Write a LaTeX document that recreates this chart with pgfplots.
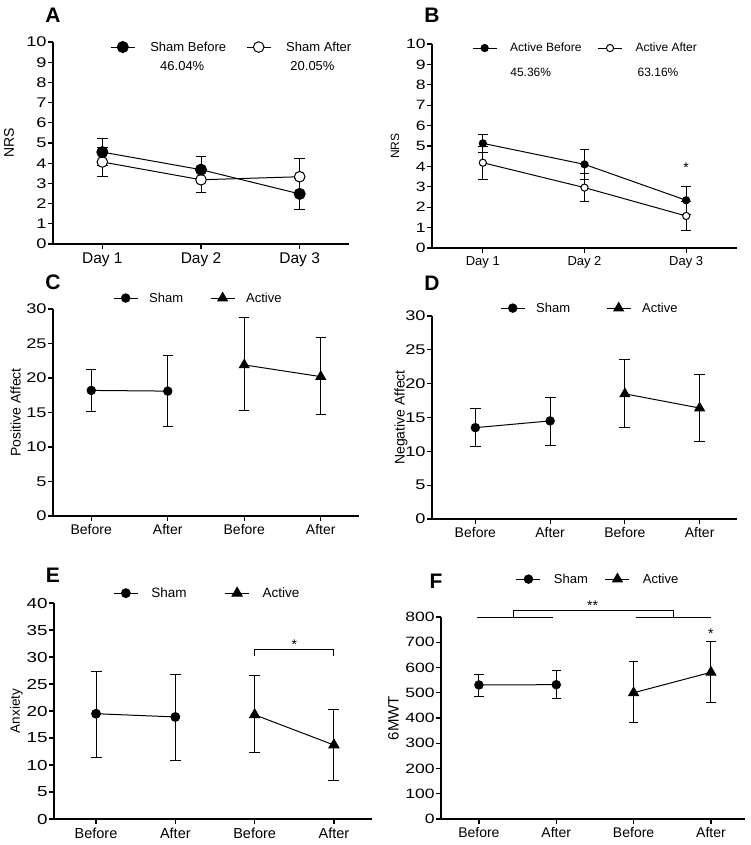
\documentclass[border=0pt]{standalone}
\usepackage{fontspec}
\setmainfont{Liberation Sans}
\newfontfamily\widefont[FakeStretch=1.3]{Liberation Sans}
\usepackage{pgfplots}
\pgfplotsset{compat=1.18}

\newcommand{\fs}[1]{\fontsize{#1}{#1}\selectfont}
\newcommand{\ws}[1]{\widefont\fontsize{#1}{#1}\selectfont}

\pgfplotsset{
  gp/.style={
    scale only axis, anchor=south west, clip=false,
    axis x line=bottom, axis y line=left,
    axis line style={-, line width=1.2pt},
    tick style={black, line width=1.2pt},
    major tick length=5pt, tick align=outside,
    /pgf/number format/assume math mode=true,
    xtick={1,2,3,4},
    legend columns=2,
    legend style={draw=none, fill=none, inner sep=0pt, anchor=west,
      nodes={inner sep=0pt}},
    legend image code/.code={\draw[mark repeat=2,mark phase=2,##1]
      plot coordinates {(0pt,0pt) (12pt,0pt) (24pt,0pt)};},
  },
  fc/.style={black, line width=1pt, mark=*, mark size=#1,
    mark options={fill=black, solid}},
  oc/.style={black, line width=1pt, mark=*, mark size=#1,
    mark options={fill=white, solid}},
  tri/.style={black, line width=1pt, mark=triangle*, mark size=#1,
    mark options={fill=black, solid}},
  eb/.style={error bars/y dir=both, error bars/y explicit,
    error bars/error bar style={line width=1pt, black},
    error bars/error mark options={black, line width=1pt, rotate=90,
      mark size=#1}},
  ylab/.style={ylabel style={at={([xshift=#1]axis description cs:0,0.5)},
    anchor=center}},
  yt/.style={yticklabel style={font=\ws{#1}, inner sep=1.2pt}},
}

\begin{document}
\begin{tikzpicture}
\useasboundingbox (0,0) rectangle (750pt,-845pt);

% panel letters
\node[font=\bfseries\fs{21}] at (53pt,-15pt) {A};
\node[font=\bfseries\fs{21}] at (432pt,-15pt) {B};
\node[font=\bfseries\fs{21}] at (53pt,-282pt) {C};
\node[font=\bfseries\fs{21}] at (432pt,-283pt) {D};
\node[font=\bfseries\fs{21}] at (53pt,-575pt) {E};
\node[font=\bfseries\fs{21}] at (436pt,-581pt) {F};

% A
\begin{axis}[gp, at={(53pt,-244pt)}, width=296pt, height=202pt,
  xmin=0.5, xmax=3.5, ymin=0, ymax=10, ytick={0,1,...,10},
  xticklabels={Day 1, Day 2, Day 3},
  xticklabel style={font=\fs{15.5}}, yt=14,
  ylabel={NRS}, ylabel style={font=\fs{14}}, ylab=-44pt,
  legend style={at={(axis description cs:0.193,0.975)}, font=\fs{13},
    /tikz/every odd column/.append style={column sep=15pt},
    /tikz/every even column/.append style={column sep=20pt}}]
\addlegendimage{fc=5.5pt}
\addlegendentry{Sham Before}
\addlegendimage{oc=5.3pt}
\addlegendentry{Sham After}
\addplot[oc=5.3pt, eb=5.3pt, forget plot] coordinates {
  (1,4.06) +- (0,0.70)
  (2,3.18) +- (0,0.62)
  (3,3.33) +- (0,0.90)};
\addplot[fc=5.5pt, eb=5.3pt, forget plot] coordinates {
  (1,4.55) +- (0,0.66)
  (2,3.68) +- (0,0.66)
  (3,2.48) +- (0,0.75)};
\node[font=\fs{13}] at (axis cs:1.81,8.81) {46.04\%};
\node[font=\fs{13}] at (axis cs:3.13,8.81) {20.05\%};
\end{axis}

% B
\begin{axis}[gp, at={(432pt,-248pt)}, width=305pt, height=204pt,
  xmin=0.5, xmax=3.5, ymin=0, ymax=10, ytick={0,1,...,10},
  xticklabels={Day 1, Day 2, Day 3},
  xticklabel style={font=\fs{13}}, yt=13.5,
  ylabel={NRS}, ylabel style={font=\fs{12}}, ylab=-37pt,
  legend style={at={(axis description cs:0.131,0.98)}, font=\fs{12},
    /tikz/every odd column/.append style={column sep=13pt},
    /tikz/every even column/.append style={column sep=16pt}}]
\addlegendimage{fc=3.6pt}
\addlegendentry{Active Before}
\addlegendimage{oc=3.6pt}
\addlegendentry{Active After}
\addplot[oc=3.6pt, eb=4.7pt, forget plot] coordinates {
  (1,4.18) +- (0,0.80)
  (2,2.96) +- (0,0.69)
  (3,1.57) +- (0,0.72)};
\addplot[fc=3.6pt, eb=4.7pt, forget plot] coordinates {
  (1,5.13) +- (0,0.43)
  (2,4.10) +- (0,0.74)
  (3,2.34) +- (0,0.68)};
\node[font=\fs{12}, anchor=west] at (axis cs:1.236,8.63) {45.36\%};
\node[font=\fs{12}, anchor=west] at (axis cs:2.488,8.63) {63.16\%};
\node[font=\fs{14}] at (axis cs:3,3.92) {*};
\end{axis}

% C
\begin{axis}[gp, at={(53pt,-516pt)}, width=306pt, height=207pt,
  xmin=0.5, xmax=4.5, ymin=0, ymax=30, ytick={0,5,...,30},
  xticklabels={Before, After, Before, After},
  xticklabel style={font=\fs{14}}, yt=14,
  ylabel={Positive Affect}, ylabel style={font=\fs{14}}, ylab=-37.5pt,
  legend style={at={(axis description cs:0.196,1.053)}, font=\fs{13},
    /tikz/every odd column/.append style={column sep=11pt},
    /tikz/every even column/.append style={column sep=27pt}}]
\addplot[fc=4.2pt, eb=5pt] coordinates {
  (1,18.2) += (0,3.0) -= (0,3.1)
  (2,18.1) += (0,5.2) -= (0,5.2)};
\addlegendentry{Sham}
\addplot[tri=5.5pt, eb=5pt] coordinates {
  (3,21.9) += (0,6.8) -= (0,6.6)
  (4,20.2) += (0,5.7) -= (0,5.5)};
\addlegendentry{Active}
\end{axis}

% D
\begin{axis}[gp, at={(432pt,-519pt)}, width=305pt, height=203pt,
  xmin=0.42, xmax=4.5, ymin=0, ymax=30, ytick={0,5,...,30},
  xticklabels={Before, After, Before, After},
  xticklabel style={font=\fs{14}}, yt=14,
  ylabel={Negative Affect}, ylabel style={font=\fs{14}}, ylab=-31pt,
  legend style={at={(axis description cs:0.223,1.039)}, font=\fs{13},
    /tikz/every odd column/.append style={column sep=11pt},
    /tikz/every even column/.append style={column sep=36pt}}]
\addplot[fc=4.2pt, eb=5.5pt] coordinates {
  (1,13.5) += (0,2.8) -= (0,2.8)
  (2,14.5) += (0,3.45) -= (0,3.6)};
\addlegendentry{Sham}
\addplot[tri=5.5pt, eb=5.5pt] coordinates {
  (3,18.5) += (0,5.1) -= (0,5.0)
  (4,16.4) += (0,5.0) -= (0,4.9)};
\addlegendentry{Active}
\end{axis}

% E
\begin{axis}[gp, at={(54pt,-819pt)}, width=318pt, height=216pt,
  xmin=0.47, xmax=4.48, ymin=0, ymax=40, ytick={0,5,...,40},
  xticklabels={Before, After, Before, After},
  xticklabel style={font=\fs{14.5}}, yt=14.5,
  ylabel={Anxiety}, ylabel style={font=\fs{13.5}}, ylab=-37.5pt,
  legend style={at={(axis description cs:0.186,1.046)}, font=\fs{13.5},
    /tikz/every odd column/.append style={column sep=13pt},
    /tikz/every even column/.append style={column sep=38pt}}]
\addplot[fc=4.4pt, eb=5.5pt] coordinates {
  (1,19.5) += (0,7.9) -= (0,8.1)
  (2,18.9) += (0,7.9) -= (0,8.1)};
\addlegendentry{Sham}
\addplot[tri=5.8pt, eb=5.5pt] coordinates {
  (3,19.3) += (0,7.2) -= (0,6.9)
  (4,13.7) += (0,6.5) -= (0,6.6)};
\addlegendentry{Active}
\draw[line width=1pt] (axis cs:3,30.2) -- (axis cs:3,31.4)
  -- (axis cs:4,31.4) -- (axis cs:4,30.2);
\node[font=\fs{14}] at (axis cs:3.5,32.25) {*};
\end{axis}

% F
\begin{axis}[gp, at={(441pt,-819pt)}, width=304pt, height=202pt,
  xmin=0.51, xmax=4.44, ymin=0, ymax=800, ytick={0,100,...,800},
  xticklabels={Before, After, Before, After},
  xticklabel style={font=\fs{14}}, yt=13.5,
  ylabel={6MWT}, ylabel style={font=\fs{15}}, ylab=-47.5pt,
  legend style={at={(axis description cs:0.246,1.188)}, font=\fs{13},
    /tikz/every odd column/.append style={column sep=13pt},
    /tikz/every even column/.append style={column sep=17pt}}]
\addplot[fc=4.2pt, eb=4.7pt] coordinates {
  (1,531) += (0,43) -= (0,47)
  (2,532) += (0,55) -= (0,55)};
\addlegendentry{Sham}
\addplot[tri=5.6pt, eb=4.7pt] coordinates {
  (3,500) += (0,124) -= (0,119)
  (4,581) += (0,124) -= (0,118)};
\addlegendentry{Active}
\draw[line width=1pt] (axis cs:0.97,800) -- (axis cs:1.96,800);
\draw[line width=1pt] (axis cs:3.03,800) -- (axis cs:4,800);
\draw[line width=1pt] (axis cs:1.45,800) -- (axis cs:1.45,824)
  -- (axis cs:3.51,824) -- (axis cs:3.51,800);
\node[font=\fs{14}] at (axis cs:2.47,843) {**};
\node[font=\fs{14}] at (axis cs:4,733) {*};
\end{axis}
\end{tikzpicture}
\end{document}
